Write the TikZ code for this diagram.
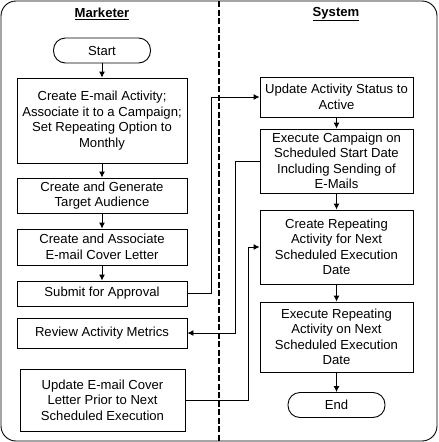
\documentclass[tikz,border=0pt]{standalone}
\usepackage{fontspec}
\setmainfont{Liberation Sans}
\usetikzlibrary{arrows.meta}

\tikzset{
  stepbox/.style={draw, line width=0.9pt, align=center, inner sep=0pt,
    font=\fontsize{13.1}{15.5}\selectfont},
  termbox/.style={draw, line width=0.9pt, rounded corners=12pt, inner sep=0pt,
    minimum width=97pt, minimum height=25pt, font=\fontsize{13.1}{15.5}\selectfont},
  arr/.style={-{Latex[length=6pt,width=6pt]}, line width=0.9pt},
  lanehead/.style={font=\fontsize{13.1}{15.5}\selectfont\bfseries}
}

\begin{document}
\begin{tikzpicture}[x=1pt,y=-1pt]
\useasboundingbox (0,0) rectangle (439,442);

% swimlanes
\draw[line width=0.9pt, rounded corners=15pt] (1,1) rectangle (437,441);
\draw[line width=1.2pt, dash pattern=on 6pt off 2.5pt] (219,1) -- (219,441);
\node[lanehead] (marketer) at (102,14) {\underline{Marketer}};
\node[lanehead] (system) at (336,14) {\underline{System}};

% Marketer lane
\node[termbox] (start) at (102,50.5) {Start};
\node[stepbox, minimum width=170pt, minimum height=85pt] (create) at (102,120.5)
  {Create E-mail Activity;\\Associate it to a Campaign;\\Set Repeating Option to\\Monthly};
\node[stepbox, minimum width=170pt, minimum height=35pt] (audience) at (102,195.5)
  {Create and Generate\\Target Audience};
\node[stepbox, minimum width=170pt, minimum height=36pt] (letter) at (102,247)
  {Create and Associate\\E-mail Cover Letter};
\node[stepbox, minimum width=170pt, minimum height=25pt] (submit) at (102,293.5)
  {Submit for Approval};
\node[stepbox, minimum width=170pt, minimum height=30pt] (review) at (102,333)
  {Review Activity Metrics};
\node[stepbox, minimum width=165pt, minimum height=62pt] (update) at (102.5,400)
  {Update E-mail Cover\\Letter Prior to Next\\Scheduled Execution};

% System lane
\node[stepbox, minimum width=153pt, minimum height=40pt] (status) at (336.5,97)
  {Update Activity Status to\\Active};
\node[stepbox, minimum width=153pt, minimum height=64pt] (execute) at (336.5,161)
  {Execute Campaign on\\Scheduled Start Date\\Including Sending of\\E-Mails};
\node[stepbox, minimum width=153pt, minimum height=74pt] (repeat) at (336.5,247)
  {Create Repeating\\Activity for Next\\Scheduled Execution\\Date};
\node[stepbox, minimum width=153pt, minimum height=70pt] (runrepeat) at (336.5,337)
  {Execute Repeating\\Activity on Next\\Scheduled Execution\\Date};
\node[termbox] (end) at (336.5,405) {End};

% flow
\draw[arr] (start) -- (create);
\draw[arr] (create) -- (audience);
\draw[arr] (audience) -- (letter);
\draw[arr] (letter) -- (submit);
\draw[arr] (status) -- (execute);
\draw[arr] (execute) -- (repeat);
\draw[arr] (repeat) -- (runrepeat);
\draw[arr] (runrepeat) -- (end);

% across the lanes
\draw[arr] (submit.east) -- ++(24,0) |- (status.west);
\draw[arr] (execute.west) -- ++(-24,0) |- (review.east);
\draw[arr] (update.east) -- ++(63,0) |- (repeat.west);
\end{tikzpicture}
\end{document}
